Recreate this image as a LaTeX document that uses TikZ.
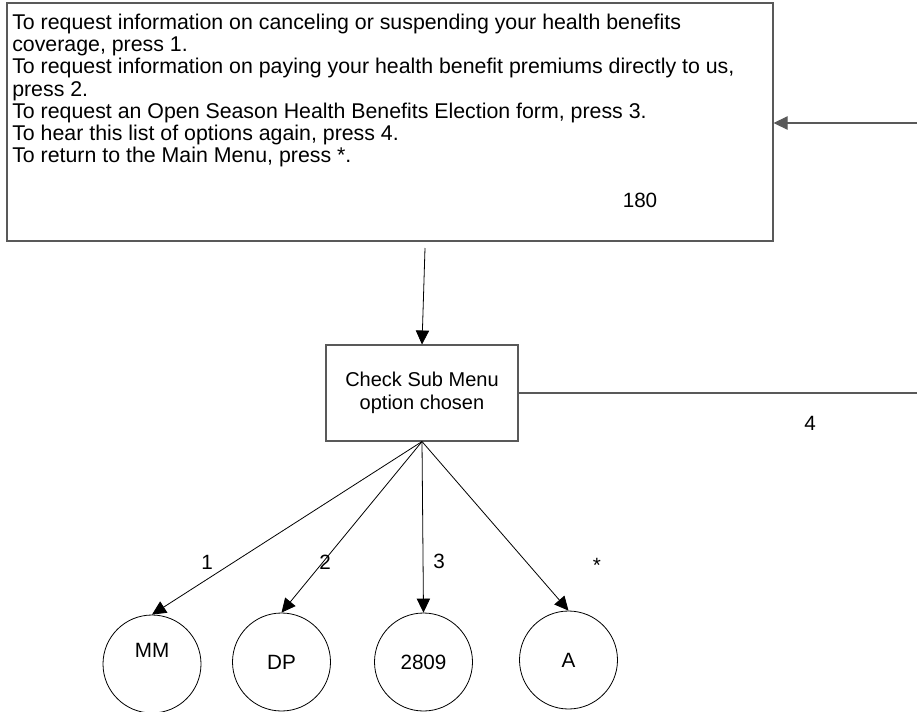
\documentclass[tikz,border=0pt]{standalone}
\usepackage{fontspec}
\setmainfont{Liberation Sans}
\usetikzlibrary{arrows.meta}
\begin{document}
\begin{tikzpicture}[x=0.75pt,y=-0.75pt,
  every node/.style={font=\fontsize{15.5pt}{17.5pt}\selectfont},
  box/.style={draw=black!65,line width=0.8pt,inner sep=0pt},
  circ/.style={draw=black,circle,line width=0.6pt,minimum size=73.5pt,inner sep=0pt},
  arr/.style={-{Triangle[length=10.5pt,width=10pt]},line width=0.6pt},
  gline/.style={draw=black!65,line width=0.8pt},
  lbl/.style={inner sep=0pt}]
\useasboundingbox (0,0) rectangle (917,711);
\node[box,minimum width=574.5pt,minimum height=178.5pt] (menu) at (390,122) {};
\node[lbl,anchor=north west,align=left,font=\fontsize{16pt}{16.7pt}\selectfont] (menutext) at (12,13.5) {To request information on canceling or suspending your health benefits\\coverage, press 1.\\To request information on paying your health benefit premiums directly to us,\\press 2.\\To request an Open Season Health Benefits Election form, press 3.\\To hear this list of options again, press 4.\\To return to the Main Menu, press *.};
\node[lbl] (n180) at (640,200) {180};
\node[box,minimum width=144pt,minimum height=72pt,align=center,font=\fontsize{15pt}{17.5pt}\selectfont] (check) at (422,393) {Check Sub Menu\\option chosen};
\node[circ] (mm) at (152,664) {};
\node[lbl] (mmt) at (152,650) {MM};
\node[circ] (dp) at (281.5,662) {DP};
\node[circ] (c2809) at (423.5,662) {2809};
\node[circ] (a) at (568.5,660) {A};
\coordinate (r1) at (917,123);
\coordinate (r2) at (917,393);
\coordinate (top) at (425,248);
\draw[arr,gline] (r1) -- (r1 -| menu.east);
\draw[arr] (top) -- (check.north);
\draw[gline] (check.east) -- (r2);
\node[lbl] (l4) at (810,423) {4};
\draw[arr] (check.south) -- (mm.north);
\draw[arr] (check.south) -- (dp.north);
\draw[arr] (check.south) -- (c2809.north);
\draw[arr] (check.south) -- (a.north);
\node[lbl] (l1) at (207,562) {1};
\node[lbl] (l2) at (325,562) {2};
\node[lbl] (l3) at (439,561) {3};
\node[lbl] (lstar) at (597,565) {*};
\end{tikzpicture}
\end{document}
